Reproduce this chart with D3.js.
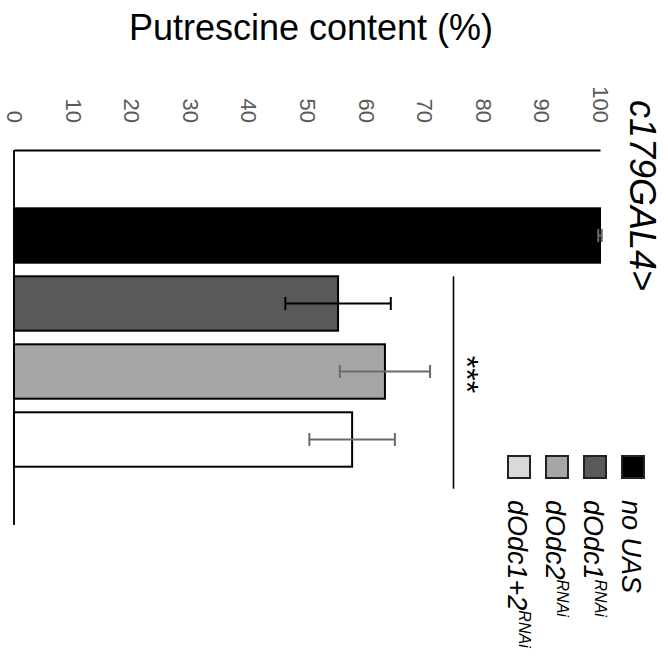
<!DOCTYPE html>
<html>
<head>
<meta charset="utf-8">
<script src="https://cdn.jsdelivr.net/npm/d3@7"></script>
<style>
  html, body { margin: 0; padding: 0; background: #fff; }
  svg { display: block; font-family: "Liberation Sans", Arial, sans-serif; }
</style>
</head>
<body>
<svg id="chart" width="668" height="658"></svg>
<script>
// ---- data ----
const categories = ["no UAS", "dOdc1", "dOdc2", "dOdc1+2"];
const values = [100, 55.3, 63.3, 57.7];
const errors = [0.3, 9.0, 7.7, 7.3];
const tickValues = [0, 10, 20, 30, 40, 50, 60, 70, 80, 90, 100];
const legendBase = ["no UAS", "dOdc1", "dOdc2", "dOdc1+2"];
const legendSup = ["", "RNAi", "RNAi", "RNAi"];
const sigRange = [1, 3]; // category indices covered by the bracket
const sigValue = 75;
const sigLabel = "***";
const titleText = "Putrescine content (%)";
const groupLabel = "c179GAL4>";

// ---- styles ----
const barFills = ["#000000", "#595959", "#a6a6a6", "#ffffff"];
const legendFills = ["#000000", "#595959", "#a6a6a6", "#d9d9d9"];
const errColors = ["#6a6a6a", "#000000", "#6a6a6a", "#6a6a6a"];

const svg = d3.select("#chart");

const x = d3.scaleLinear().domain([0, 100]).range([14, 600]);
const y = d3.scaleBand().domain(categories).range([208.3, 466.7]).paddingInner(0.2).paddingOuter(0);

// title
svg.append("text")
  .attr("x", 311).attr("y", 40)
  .attr("text-anchor", "middle")
  .attr("font-size", 36)
  .attr("fill", "#000")
  .text(titleText);

// value axis (top)
const axisG = svg.append("g")
  .attr("transform", "translate(0,150)")
  .call(d3.axisTop(x).tickValues(tickValues).tickSizeInner(0).tickSizeOuter(0).tickFormat(d3.format("d")));
axisG.select(".domain").attr("stroke", "#000").attr("stroke-width", 2);
axisG.selectAll(".tick line").remove();
axisG.selectAll(".tick text")
  .attr("x", 0).attr("y", 0).attr("dy", null)
  .attr("transform", "translate(0,-27) rotate(90)")
  .attr("text-anchor", "end")
  .attr("dominant-baseline", "central")
  .attr("font-size", 22)
  .attr("font-family", "Liberation Sans, Arial, sans-serif")
  .attr("fill", "#595959");

// baseline (left)
svg.append("line")
  .attr("x1", x(0)).attr("x2", x(0))
  .attr("y1", 150).attr("y2", 525)
  .attr("stroke", "#111").attr("stroke-width", 2);

// bars
svg.selectAll("rect.bar")
  .data(categories)
  .join("rect")
  .attr("class", "bar")
  .attr("x", x(0))
  .attr("y", d => y(d))
  .attr("width", (d, i) => x(values[i]) - x(0))
  .attr("height", y.bandwidth())
  .attr("fill", (d, i) => barFills[i])
  .attr("stroke", "#000")
  .attr("stroke-width", 2);

// error bars
const capH = 13;
const eg = svg.append("g");
categories.forEach((c, i) => {
  const cy = y(c) + y.bandwidth() / 2;
  const lo = x(values[i] - errors[i]);
  const hi = x(values[i] + errors[i]);
  const col = errColors[i];
  const g = eg.append("g").attr("stroke", col).attr("stroke-width", 2);
  g.append("line").attr("x1", lo).attr("x2", hi).attr("y1", cy).attr("y2", cy);
  g.append("line").attr("x1", lo).attr("x2", lo).attr("y1", cy - capH / 2).attr("y2", cy + capH / 2);
  g.append("line").attr("x1", hi).attr("x2", hi).attr("y1", cy - capH / 2).attr("y2", cy + capH / 2);
});

// significance bracket
const sigTop = y(categories[sigRange[0]]);
const sigBot = y(categories[sigRange[1]]) + y.bandwidth() + 22;
svg.append("line")
  .attr("x1", x(sigValue)).attr("x2", x(sigValue))
  .attr("y1", sigTop).attr("y2", sigBot)
  .attr("stroke", "#000").attr("stroke-width", 1.6);
svg.append("text")
  .attr("transform", `translate(${x(sigValue) + 2},${(sigTop + sigBot) / 2 - 8}) rotate(90)`)
  .attr("text-anchor", "middle")
  .attr("font-size", 32)
  .attr("fill", "#000")
  .text(sigLabel);

// group label
svg.append("text")
  .attr("transform", "translate(630,100) rotate(90)")
  .attr("text-anchor", "start")
  .attr("font-size", 36)
  .attr("font-style", "italic")
  .attr("fill", "#000")
  .text(groupLabel);

// legend
const legX = d3.scalePoint().domain(categories).range([633, 519]);
const sq = 22;
categories.forEach((c, i) => {
  const cx = legX(c);
  svg.append("rect")
    .attr("x", cx - sq / 2).attr("y", 456)
    .attr("width", sq).attr("height", sq)
    .attr("fill", legendFills[i])
    .attr("stroke", "#222").attr("stroke-width", 2);
  const t = svg.append("text")
    .attr("transform", `translate(${cx - sq / 2},500) rotate(90)`)
    .attr("text-anchor", "start")
    .attr("font-size", 27)
    .attr("font-style", "italic")
    .attr("fill", "#000");
  t.append("tspan").text(legendBase[i]);
  if (legendSup[i]) {
    t.append("tspan").attr("dy", -11).attr("font-size", 16).text(legendSup[i]);
  }
});
</script>
</body>
</html>
